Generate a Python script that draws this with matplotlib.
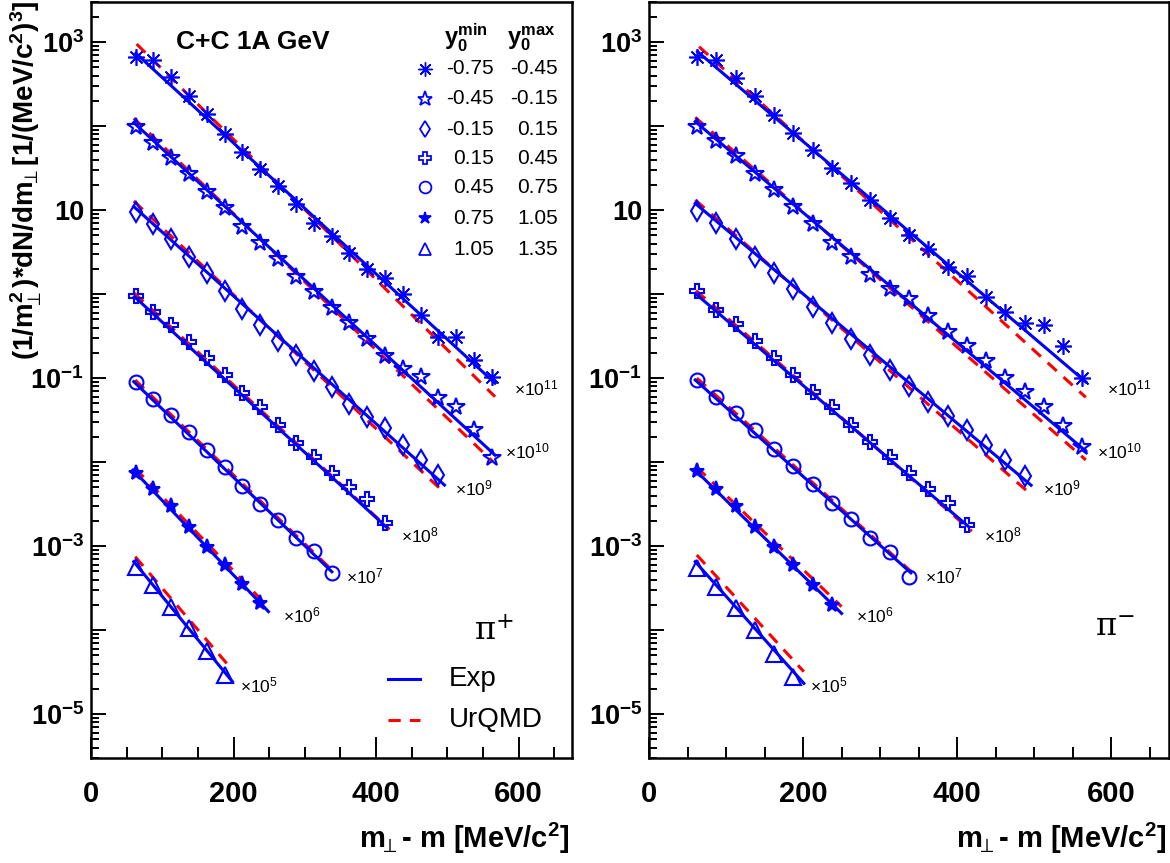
import numpy as np
import matplotlib
matplotlib.use('Agg')
import matplotlib.pyplot as plt
from matplotlib.ticker import FixedLocator, FuncFormatter, LogLocator, MultipleLocator, NullFormatter

plt.rcParams['font.family'] = ['Liberation Sans', 'DejaVu Sans']
plt.rcParams['mathtext.default'] = 'regular'

# m_perp - m bin centres [MeV/c^2]
MT = [62.5, 87.5, 112.5, 137.5, 162.5, 187.5, 212.5, 237.5, 262.5, 287.5, 312.5,
      337.5, 362.5, 387.5, 412.5, 437.5, 462.5, 487.5, 512.5, 537.5, 562.5]

Y0_MIN = ['-0.75', '-0.45', '-0.15', '0.15', '0.45', '0.75', '1.05']
Y0_MAX = ['-0.45', '-0.15', '0.15', '0.45', '0.75', '1.05', '1.35']
SCALE_EXP = ['11', '10', '9', '8', '7', '6', '5']

# pi+ (left panel), already scaled
pip_1 = [670, 612, 381, 228, 139, 80.5, 49.5, 30.8, 19.5, 11.8, 7.08, 4.91, 3.11, 1.97,
         1.54, 1.0, 0.563, 0.305, 0.311, 0.164, 0.104]
pip_2 = [98.3, 63.4, 41.3, 26.9, 16.6, 10.5, 6.34, 4.02, 2.59, 1.61, 1.07, 0.676, 0.449,
         0.289, 0.183, 0.127, 0.104, 0.0574, 0.0456, 0.0241, 0.0111]
pip_3 = [9.57, 6.83, 4.49, 2.79, 1.77, 1.10, 0.659, 0.429, 0.279, 0.188, 0.122, 0.0776,
         0.0491, 0.0347, 0.0252, 0.0160, 0.0106, 0.0070]
pip_4 = [0.948, 0.617, 0.429, 0.271, 0.172, 0.109, 0.0659, 0.0456, 0.0276, 0.0170, 0.0116,
         0.00748, 0.00509, 0.00360, 0.00187]
pip_5 = [0.0897, 0.0558, 0.0363, 0.0230, 0.0139, 0.00881, 0.00519, 0.00317, 0.00204,
         0.00124, 0.00088, 0.000474]
pip_6 = [0.00748, 0.00474, 0.00300, 0.00170, 0.000984, 0.000596, 0.000354, 0.000212]
pip_7 = [0.000569, 0.000344, 0.000187, 0.000105, 5.69e-5, 2.92e-5]

# pi- (right panel)
pim_1 = [658, 612, 371, 228, 135, 83.4, 51.9, 31.4, 20.8, 13.2, 7.98, 5.05, 3.41, 2.12,
         1.64, 0.931, 0.62, 0.45, 0.43, 0.24, 0.10]
pim_2 = [98.4, 67.0, 44.0, 26.9, 17.3, 10.8, 6.83, 4.09, 2.79, 1.69, 1.14, 0.867, 0.55,
         0.35, 0.24, 0.16, 0.10, 0.068, 0.045, 0.027, 0.015]
pim_3 = [9.84, 7.08, 4.49, 2.79, 1.80, 1.14, 0.70, 0.45, 0.29, 0.19, 0.125, 0.080, 0.052,
         0.035, 0.024, 0.016, 0.0105, 0.0068]
pim_4 = [1.10, 0.65, 0.44, 0.28, 0.175, 0.11, 0.068, 0.045, 0.028, 0.0175, 0.0115, 0.0075,
         0.0048, 0.0033, 0.0018]
pim_5 = [0.095, 0.060, 0.038, 0.024, 0.0145, 0.0090, 0.0055, 0.0033, 0.0021, 0.00125,
         0.00085, 0.00043]
pim_6 = [0.0078, 0.0048, 0.0030, 0.0017, 0.00098, 0.000596, 0.000344, 0.000199]
pim_7 = [0.000543, 0.000328, 0.000182, 0.000100, 5.19e-5, 2.79e-5]

# fit lines: (x_start, x_end, y_start, y_end)
pip_exp = [(63, 567, 735, 0.087), (60, 567, 110, 0.0121), (60, 496, 11.0, 0.00533),
           (61, 415, 0.93, 0.00167), (60, 338, 0.0906, 0.000495),
           (59, 249, 0.00805, 0.000166), (60, 198.5, 0.000652, 2.43e-5)]
pip_urqmd = [(64, 567, 948, 0.060), (60, 564, 124, 0.0101), (60, 497, 12.8, 0.00423),
             (61, 419, 1.02, 0.00158), (62, 338, 0.0948, 0.000519),
             (62, 249, 0.00843, 0.000187), (62, 198.5, 0.000748, 3.34e-5)]
pim_exp = [(63, 567, 769, 0.09), (60, 567, 113, 0.0135), (60, 496, 12.0, 0.0053),
           (61, 415, 1.0, 0.0017), (60, 340, 0.095, 0.00048),
           (59, 250, 0.0082, 0.000158), (60, 201, 0.000652, 2.32e-5)]
pim_urqmd = [(65, 567, 881, 0.059), (60, 567, 127, 0.0106), (60, 496, 13.2, 0.0041),
             (61, 419, 1.1, 0.0015), (62, 340, 0.1, 0.0005),
             (62, 250, 0.0087, 0.00019), (62, 201, 0.000783, 3.2e-5)]

pip_series = [pip_1, pip_2, pip_3, pip_4, pip_5, pip_6, pip_7]
pim_series = [pim_1, pim_2, pim_3, pim_4, pim_5, pim_6, pim_7]

# scale label anchors (data coords of the left edge of "x10^n")
LBL_X = [594, 581, 511, 435, 358, 269, 209]
LBL_Y = [0.076, 0.0132, 0.0049, 0.00135, 0.00043, 0.000151, 2.22e-5]

BLUE = '#0000ff'
RED = '#ff0000'
MARKERS = [(8, 2, 0), '*', 'd', 'P', 'o', '*', '^']
MSIZE = [12, 13, 10, 10, 10, 11, 11]
MEW = [1.2, 1.5, 1.5, 1.5, 1.5, 1.5, 1.5]
FILLED = [True, False, False, False, False, True, False]


def draw_marker(ax, x, y, i, scale=1.0, **kw):
    fc = BLUE if FILLED[i] else 'none'
    ax.plot(x, y, ls='none', marker=MARKERS[i], ms=MSIZE[i] * scale, mec=BLUE, mfc=fc,
            mew=MEW[i] * scale, **kw)


def ytick_fmt(v, pos):
    e = int(round(np.log10(v)))
    if e % 2 == 0:
        return ''
    if e == 1:
        return '10'
    return '10$^{%d}$' % e


def draw_panel(ax, series, exp_lines, urqmd_lines):
    for i, ys in enumerate(series):
        xe0, xe1, ye0, ye1 = exp_lines[i]
        ax.plot([xe0, xe1], [ye0, ye1], color=BLUE, lw=2.2, zorder=3)
        xu0, xu1, yu0, yu1 = urqmd_lines[i]
        ax.plot([xu0, xu1], [yu0, yu1], color=RED, lw=2.2, ls=(0, (4, 3)), zorder=2)
        draw_marker(ax, MT[:len(ys)], ys, i, zorder=4)
        ax.text(LBL_X[i], LBL_Y[i], '×10$^{%s}$' % SCALE_EXP[i], fontsize=12.5,
                ha='left', va='center')

    ax.set_yscale('log')
    ax.set_xlim(0, 675)
    ax.set_ylim(3e-6, 3e3)
    ax.xaxis.set_major_locator(FixedLocator([0, 200, 400, 600]))
    ax.xaxis.set_minor_locator(MultipleLocator(50))
    ax.yaxis.set_major_locator(FixedLocator([10.0 ** k for k in range(-6, 4)]))
    ax.yaxis.set_minor_locator(LogLocator(base=10, subs=np.arange(2, 10)))
    ax.yaxis.set_major_formatter(FuncFormatter(ytick_fmt))
    ax.yaxis.set_minor_formatter(NullFormatter())
    ax.tick_params(axis='both', which='both', direction='in', top=False, right=False,
                   width=1.4)
    ax.tick_params(axis='x', which='major', length=15, pad=16, labelsize=21)
    ax.tick_params(axis='x', which='minor', length=8)
    ax.tick_params(axis='y', which='major', length=10.5, pad=5, labelsize=19.5)
    ax.tick_params(axis='y', which='minor', length=5.5)
    for lbl in ax.get_xticklabels() + ax.get_yticklabels():
        lbl.set_fontweight('bold')
    for sp in ax.spines.values():
        sp.set_linewidth(1.8)


fig = plt.figure(figsize=(11.7, 8.63), dpi=100)
W, H = 1170.0, 863.0
ax1 = fig.add_axes([91 / W, (H - 758) / H, 481 / W, 756 / H])
ax2 = fig.add_axes([649 / W, (H - 758) / H, 520 / W, 756 / H])

draw_panel(ax1, pip_series, pip_exp, pip_urqmd)
draw_panel(ax2, pim_series, pim_exp, pim_urqmd)

# header and y0 legend (left panel)
ax1.text(0.177, 0.947, 'C+C 1A GeV', transform=ax1.transAxes, fontsize=19,
         fontweight='bold', ha='left', va='center')
ax1.text(0.780, 0.952, r'$y_{0}^{min}$', transform=ax1.transAxes, fontsize=17,
         fontweight='bold', ha='center', va='center')
ax1.text(0.915, 0.952, r'$y_{0}^{max}$', transform=ax1.transAxes, fontsize=17,
         fontweight='bold', ha='center', va='center')
LEG_ROWS = [0.912, 0.872, 0.832, 0.793, 0.755, 0.714, 0.673]
for i, fy in enumerate(LEG_ROWS):
    draw_marker(ax1, [0.694], [fy], i, scale=0.85, transform=ax1.transAxes,
                clip_on=False)
    ax1.text(0.838, fy, Y0_MIN[i], transform=ax1.transAxes, fontsize=15,
             ha='right', va='center')
    ax1.text(0.971, fy, Y0_MAX[i], transform=ax1.transAxes, fontsize=15,
             ha='right', va='center')

# Exp / UrQMD legend
ax1.plot([0.617, 0.684], [0.1045, 0.1045], transform=ax1.transAxes, color=BLUE, lw=2.2)
ax1.plot([0.617, 0.684], [0.050, 0.050], transform=ax1.transAxes, color=RED, lw=2.2,
         ls=(0, (4, 3)))
ax1.text(0.744, 0.1045, 'Exp', transform=ax1.transAxes, fontsize=20, ha='left',
         va='center')
ax1.text(0.744, 0.050, 'UrQMD', transform=ax1.transAxes, fontsize=20, ha='left',
         va='center')

ax1.text(0.796, 0.167, r'$\pi^{+}$', transform=ax1.transAxes, fontsize=23,
         family='serif', ha='left', va='center')
ax2.text(0.858, 0.173, r'$\pi^{-}$', transform=ax2.transAxes, fontsize=23,
         family='serif', ha='left', va='center')

# axis titles
xlab = r'm$_{\!\!\perp}$- m [MeV/c$^{2}$]'
fig.text(570 / W, 1 - 838 / H, xlab, fontsize=21, fontweight='bold', ha='right',
         va='center')
fig.text(1167 / W, 1 - 838 / H, xlab, fontsize=21, fontweight='bold', ha='right',
         va='center')
fig.text(26 / W, 1 - 1 / H,
         r'(1/m$_{\!\!\perp}^{2}$)*dN/dm$_{\!\!\perp}$[1/(MeV/c$^{2}$)$^{3}$]',
         fontsize=20, fontweight='bold', rotation=90, ha='center', va='top')

fig.savefig('out.png', dpi=100)
